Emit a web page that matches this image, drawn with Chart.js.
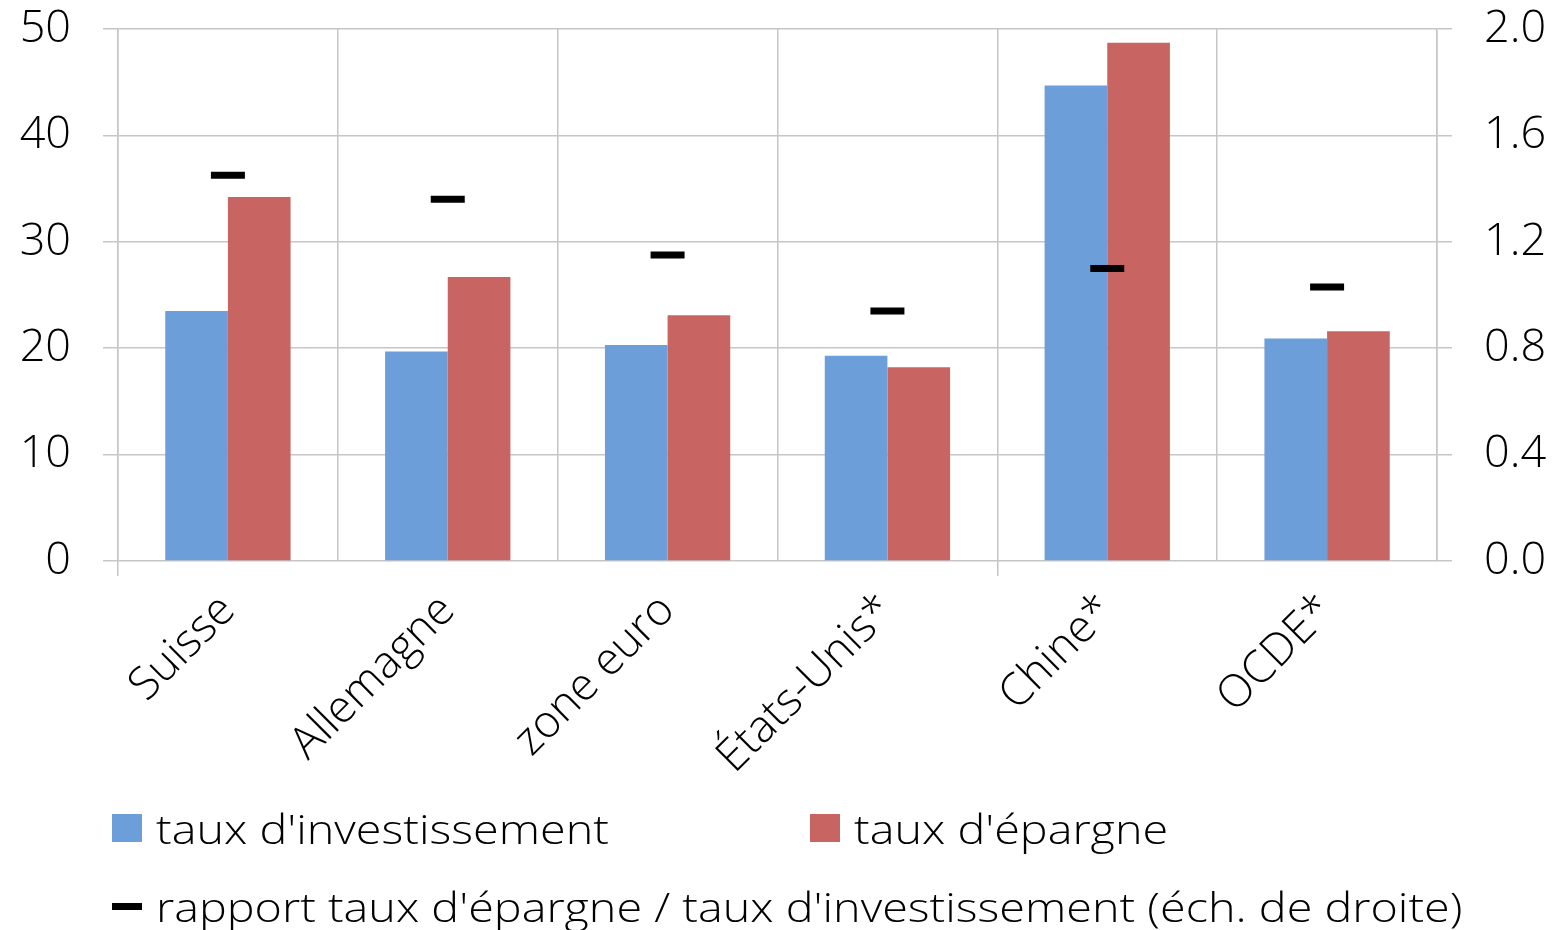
<!DOCTYPE html>
<html lang="fr">
<head>
<meta charset="utf-8">
<title>Taux d'investissement et d'épargne</title>
<script src="https://cdn.jsdelivr.net/npm/chart.js@4/dist/chart.umd.min.js"></script>
<style>
    body { margin: 0; background: #fff; }
    #wrap { position: relative; width: 1558px; height: 930px; }
    #legend { position: absolute; left: 0; top: 0; width: 1558px; height: 930px; pointer-events: none;
              font-family: "Open Sans", sans-serif; font-weight: 300; font-size: 41px; color: #000; }
    .item { position: absolute; display: flex; align-items: center; white-space: nowrap; }
    .swatch { display: inline-block; width: 30px; margin-right: 14px; }
    .txt { display: inline-block; transform: scaleX(1.14); transform-origin: left center; }
</style>
</head>
<body>
<div id="wrap">
    <canvas id="chart" width="1558" height="930"></canvas>
    <div id="legend"></div>
</div>
<script>
const categories = ["Suisse", "Allemagne", "zone euro", "États-Unis*", "Chine*", "OCDE*"];
const investRate = [23.5, 19.7, 20.3, 19.3, 44.7, 20.9];
const savingRate = [34.2, 26.7, 23.1, 18.2, 48.7, 21.6];
const savingInvestRatio = [1.45, 1.36, 1.15, 0.94, 1.10, 1.03];
const leftTicks = [0, 10, 20, 30, 40, 50];
const rightTicks = [0.0, 0.4, 0.8, 1.2, 1.6, 2.0];

const labelInvest = "taux d'investissement";
const labelSaving = "taux d'épargne";
const labelRatio = "rapport taux d'épargne / taux d'investissement (éch. de droite)";

const gridColor = "#c6c6c6";
const fontFamily = "'Open Sans', sans-serif";

// fixed widths for the value axes, no extra room for half labels
function fixWidth(w) {
    return scale => {
        scale.width = w;
        scale.paddingTop = 0;
        scale.paddingBottom = 0;
    };
}

const ctx = document.getElementById("chart").getContext("2d");

new Chart(ctx, {
    type: "bar",
    data: {
        labels: categories,
        datasets: [
            {
                type: "line",
                label: labelRatio,
                data: savingInvestRatio,
                yAxisID: "y1",
                showLine: false,
                pointStyle: "line",
                pointRadius: 17,
                pointHoverRadius: 17,
                pointBorderWidth: 7,
                pointHoverBorderWidth: 7,
                borderColor: "#000",
                backgroundColor: "#000"
            },
            {
                label: labelInvest,
                data: investRate,
                yAxisID: "y",
                backgroundColor: "#6c9ed9",
                categoryPercentage: 0.57,
                barPercentage: 1.0
            },
            {
                label: labelSaving,
                data: savingRate,
                yAxisID: "y",
                backgroundColor: "#c86562",
                categoryPercentage: 0.57,
                barPercentage: 1.0
            }
        ]
    },
    options: {
        responsive: false,
        animation: false,
        layout: { padding: { top: 29, left: 0, right: 0, bottom: 0 } },
        plugins: {
            legend: { display: false },
            tooltip: { enabled: false }
        },
        scales: {
            x: {
                offset: true,
                grid: {
                    offset: true,
                    color: gridColor,
                    lineWidth: 1.5,
                    tickLength: 15,
                    // only a couple of tick marks below the axis, like the original
                    tickColor: c => (c.index === 0 || c.index === 4) ? gridColor : "rgba(0,0,0,0)"
                },
                border: { display: false },
                ticks: {
                    maxRotation: 45,
                    minRotation: 45,
                    padding: 8,
                    color: "#000",
                    font: { family: fontFamily, size: 45, weight: 300 }
                },
                afterFit: scale => { scale.height = 369; }
            },
            y: {
                position: "left",
                min: 0,
                max: 50,
                afterBuildTicks: scale => { scale.ticks = leftTicks.map(v => ({ value: v })); },
                grid: { color: gridColor, lineWidth: 1.5, tickLength: 15 },
                border: { display: true, color: gridColor, width: 1.5 },
                ticks: {
                    padding: 32,
                    color: "#000",
                    font: { family: fontFamily, size: 45, weight: 300 }
                },
                afterFit: fixWidth(118)
            },
            y1: {
                position: "right",
                min: 0,
                max: 2,
                afterBuildTicks: scale => { scale.ticks = rightTicks.map(v => ({ value: v })); },
                grid: { drawOnChartArea: false, color: gridColor, lineWidth: 1.5, tickLength: 15 },
                border: { display: true, color: gridColor, width: 1.5 },
                ticks: {
                    padding: 32,
                    color: "#000",
                    callback: v => v.toFixed(1),
                    font: { family: fontFamily, size: 45, weight: 300 }
                },
                afterFit: fixWidth(121)
            }
        }
    }
});

// legend built from the same labels
const legendItems = [
    { text: labelInvest, color: "#6c9ed9", kind: "box", left: 112, top: 828 },
    { text: labelSaving, color: "#c86562", kind: "box", left: 810, top: 828 },
    { text: labelRatio, color: "#000", kind: "dash", left: 112, top: 906 }
];
const legendDiv = document.getElementById("legend");
legendItems.forEach(item => {
    const el = document.createElement("div");
    el.className = "item";
    el.style.left = item.left + "px";
    el.style.top = (item.top - 30) + "px";
    el.style.height = "60px";
    const sw = document.createElement("span");
    sw.className = "swatch";
    sw.style.background = item.color;
    sw.style.height = item.kind === "box" ? "28px" : "7px";
    el.appendChild(sw);
    const tx = document.createElement("span");
    tx.className = "txt";
    tx.textContent = item.text;
    el.appendChild(tx);
    legendDiv.appendChild(el);
});
</script>
</body>
</html>
